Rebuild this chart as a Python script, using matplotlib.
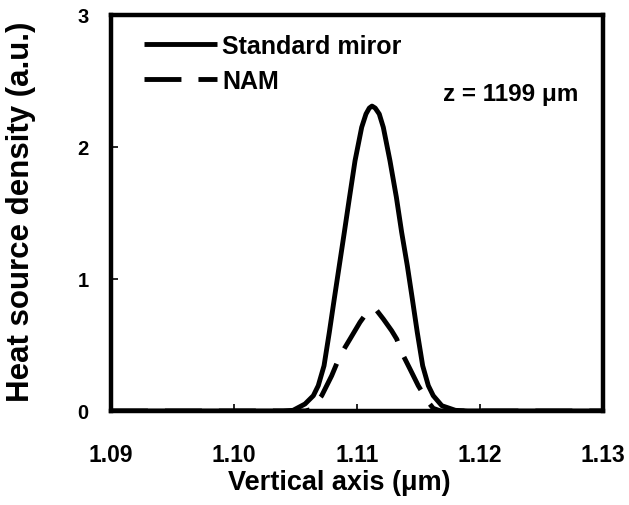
import matplotlib
matplotlib.use("Agg")
import matplotlib.pyplot as plt

plt.rcParams['font.family'] = ['Liberation Sans', 'DejaVu Sans']
plt.rcParams['font.weight'] = 'bold'

# Heat source density profiles across the vertical axis
std_x = [1.09000, 1.10000, 1.10400, 1.10480, 1.10577, 1.10645, 1.10685, 1.10732,
         1.10775, 1.10815, 1.10856, 1.10897, 1.10937, 1.10984, 1.11038, 1.11073,
         1.11100, 1.11122, 1.11148, 1.11181, 1.11214, 1.11268, 1.11320, 1.11363,
         1.11409, 1.11450, 1.11490, 1.11534, 1.11580, 1.11620, 1.11690, 1.11800,
         1.11900, 1.13000]
std_y = [0.0, 0.0, 0.0, 0.005, 0.053, 0.116, 0.192, 0.343,
         0.596, 0.848, 1.101, 1.354, 1.606, 1.896, 2.149, 2.25,
         2.295, 2.31, 2.295, 2.25, 2.149, 1.896, 1.62, 1.354,
         1.101, 0.848, 0.596, 0.343, 0.192, 0.116, 0.04, 0.005,
         0.0, 0.0]

nam_x = [1.09000, 1.10000, 1.10580, 1.10620, 1.10659, 1.10713, 1.10794, 1.10862,
         1.10943, 1.11024, 1.11080, 1.11125, 1.11160, 1.11214, 1.11282, 1.11323,
         1.11363, 1.11431, 1.11498, 1.11580, 1.11620, 1.11680, 1.13000]
nam_y = [0.0, 0.0, 0.0, 0.01, 0.053, 0.116, 0.267, 0.419,
         0.545, 0.672, 0.745, 0.772, 0.762, 0.697, 0.608, 0.545,
         0.444, 0.318, 0.192, 0.066, 0.02, 0.0, 0.0]

series_labels = ['Standard miror', 'NAM']
x_ticks = [1.09, 1.10, 1.11, 1.12, 1.13]
x_tick_labels = ['1.09', '1.10', '1.11', '1.12', '1.13']
y_ticks = [0, 1, 2, 3]
y_tick_labels = ['0', '1', '2', '3']

fig = plt.figure(figsize=(6.29, 5.06), dpi=100)
ax = fig.add_axes([111 / 629, 94 / 506, 492 / 629, 396 / 506])

lw = 3.5
l1, = ax.plot(std_x, std_y, color='black', lw=lw, solid_capstyle='butt',
              solid_joinstyle='round')
l2, = ax.plot(nam_x, nam_y, color='black', lw=lw, dashes=(7.6, 3.5),
              dash_capstyle='butt', dash_joinstyle='round')

ax.set_xlim(1.09, 1.13)
ax.set_ylim(0, 3)
ax.set_xticks(x_ticks)
ax.set_xticklabels(x_tick_labels)
ax.set_yticks(y_ticks)
ax.set_yticklabels(y_tick_labels)

for side in ['left', 'right', 'top', 'bottom']:
    ax.spines[side].set_linewidth(3.2)
    ax.spines[side].set_color('black')

ax.tick_params(axis='x', direction='in', length=5, width=1.2, pad=23,
               labelsize=16.5, top=False)
ax.tick_params(axis='y', direction='in', length=5, width=1.2, pad=16,
               labelsize=14.5, right=False)
for t in ax.get_xticklabels() + ax.get_yticklabels():
    t.set_fontweight('bold')

fig.text(339 / 629, 1 - 490 / 506, 'Vertical axis (\u03bcm)', ha='center',
         va='baseline', fontsize=19.5, fontweight='bold')
fig.text(21 / 629, 1 - 212 / 506, 'Heat source density (a.u.)', ha='center',
         va='center', rotation=90, fontsize=22.5, fontweight='bold')

fig.text(443 / 629, 1 - 101 / 506, 'z = 1199 \u03bcm', fontsize=17.5,
         fontweight='bold', ha='left', va='baseline')

leg = ax.legend([l1, l2], series_labels, loc='upper left',
                bbox_to_anchor=(0.067, 0.953), frameon=False, borderpad=0,
                borderaxespad=0, handlelength=2.92, handletextpad=0.2,
                labelspacing=0.46, fontsize=18)
for t in leg.get_texts():
    t.set_fontweight('bold')

fig.savefig('out.png', dpi=100)
